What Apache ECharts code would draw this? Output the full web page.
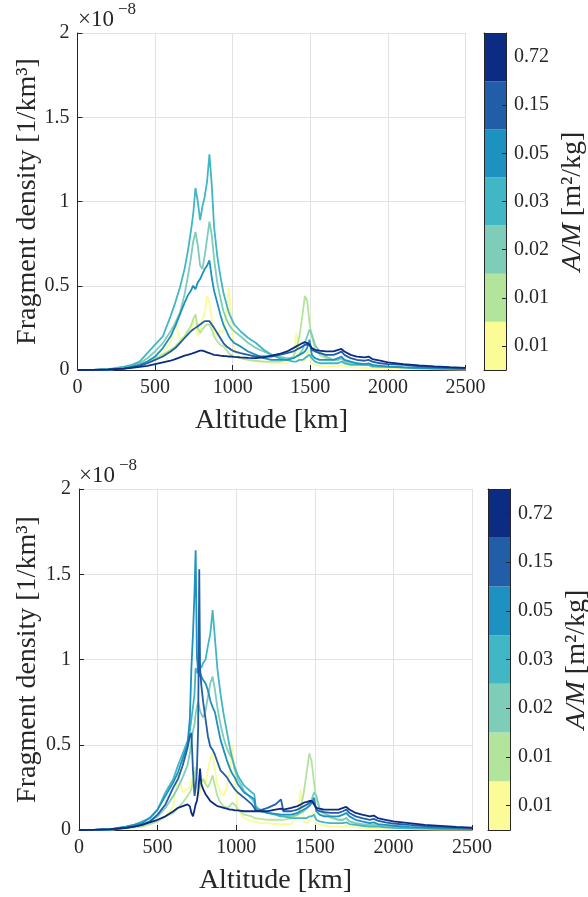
<!DOCTYPE html>
<html>
<head>
<meta charset="utf-8">
<script src="https://cdn.jsdelivr.net/npm/echarts/dist/echarts.min.js"></script>
<style>
  html, body { margin: 0; padding: 0; background: #ffffff; }
  #chart { width: 588px; height: 897px; }
</style>
</head>
<body>
<div id="chart"></div>
<script>
// ---------- data (density values in units of 1e-8 1/km^3) ----------
const cbLabels = ['0.01', '0.01', '0.02', '0.03', '0.05', '0.15', '0.72'];
const cbBand = [1, 1, 1, 1, 1, 1, 1];
const seriesColors = ['#fbfb97', '#b3e49b', '#7ecdb9', '#41b6c4', '#1d91c0', '#225ea8', '#0c2c84'];

const altTop = [0,100,200,300,350,400,450,500,550,600, 630,660,690,710,730,745,760,775,790,805,
  820,835,850,865,880,900,920,940,960,975, 990,1010,1050,1100,1150,1200,1250,1300,1350,1390,
  1410,1430,1450,1465,1480,1495,1510,1530,1560,1600, 1650,1680,1700,1720,1760,1800,1850,1875,1900,1950,
  2000,2100,2200,2300,2400,2500];

const topS1 = [0,0,0.002,0.01,0.02,0.05,0.05,0.07,0.10,0.16,
  0.29,0.18,0.20,0.24,0.22,0.28,0.30,0.20,0.22,0.30,
  0.34,0.44,0.40,0.30,0.22,0.20,0.24,0.22,0.35,0.49,
  0.30,0.12,0.07,0.06,0.05,0.05,0.04,0.04,0.04,0.08,
  0.22,0.06,0.05,0.06,0.10,0.12,0.04,0.03,0.025,0.02,
  0.02,0.02,0.03,0.02,0.015,0.015,0.012,0.012,0.01,0.01,
  0.01,0.008,0.006,0.005,0.004,0.003];
const topS2 = [0,0,0.003,0.01,0.02,0.03,0.05,0.07,0.09,0.12,
  0.14,0.17,0.20,0.23,0.26,0.30,0.33,0.25,0.22,0.24,
  0.26,0.27,0.27,0.24,0.20,0.17,0.15,0.14,0.12,0.10,
  0.09,0.08,0.07,0.06,0.055,0.05,0.05,0.05,0.06,0.08,
  0.12,0.20,0.33,0.44,0.41,0.28,0.20,0.13,0.09,0.07,
  0.06,0.06,0.07,0.05,0.04,0.035,0.03,0.03,0.025,0.02,
  0.018,0.014,0.011,0.009,0.007,0.005];
const topS3 = [0,0,0.003,0.015,0.025,0.04,0.07,0.11,0.16,0.23,
  0.28,0.34,0.45,0.55,0.66,0.76,0.82,0.74,0.62,0.60,
  0.68,0.78,0.88,0.80,0.66,0.52,0.43,0.35,0.30,0.27,
  0.25,0.23,0.20,0.16,0.13,0.11,0.09,0.08,0.07,0.07,
  0.08,0.09,0.12,0.16,0.20,0.24,0.21,0.15,0.11,0.08,
  0.06,0.06,0.07,0.05,0.04,0.035,0.03,0.03,0.025,0.02,
  0.02,0.015,0.012,0.01,0.008,0.006];
const topS4 = [0,0,0.005,0.02,0.03,0.05,0.10,0.15,0.20,0.32,
  0.40,0.49,0.60,0.70,0.82,0.92,1.08,1.00,0.89,0.97,
  1.03,1.12,1.28,1.10,0.85,0.68,0.56,0.46,0.39,0.34,
  0.31,0.27,0.23,0.19,0.16,0.12,0.09,0.07,0.06,0.05,
  0.05,0.06,0.06,0.07,0.08,0.09,0.07,0.05,0.04,0.04,
  0.04,0.04,0.05,0.04,0.03,0.03,0.03,0.03,0.02,0.02,
  0.02,0.015,0.01,0.01,0.008,0.006];
const topS5 = [0,0,0.003,0.01,0.02,0.03,0.05,0.08,0.13,0.20,
  0.26,0.33,0.40,0.44,0.47,0.50,0.48,0.52,0.54,0.57,
  0.60,0.62,0.65,0.55,0.47,0.40,0.33,0.27,0.23,0.20,
  0.18,0.16,0.14,0.11,0.09,0.07,0.06,0.06,0.06,0.07,
  0.08,0.09,0.10,0.11,0.13,0.18,0.09,0.07,0.06,0.06,
  0.06,0.07,0.08,0.06,0.05,0.04,0.035,0.04,0.03,0.025,
  0.02,0.016,0.013,0.01,0.008,0.006];
const topS6 = [0,0,0.002,0.008,0.015,0.025,0.04,0.06,0.08,0.11,
  0.13,0.16,0.19,0.21,0.23,0.24,0.25,0.26,0.27,0.28,
  0.29,0.29,0.29,0.27,0.25,0.22,0.19,0.16,0.14,0.13,
  0.12,0.11,0.10,0.09,0.08,0.08,0.08,0.09,0.10,0.11,
  0.12,0.13,0.14,0.15,0.15,0.15,0.12,0.11,0.10,0.09,
  0.09,0.10,0.11,0.09,0.07,0.06,0.055,0.06,0.05,0.04,
  0.035,0.03,0.022,0.017,0.013,0.01];
const topS7 = [0,0.001,0.003,0.008,0.012,0.018,0.025,0.035,0.045,0.055,
  0.065,0.075,0.085,0.09,0.095,0.10,0.105,0.11,0.115,0.115,
  0.11,0.105,0.10,0.095,0.09,0.088,0.085,0.083,0.082,0.08,
  0.08,0.078,0.075,0.072,0.07,0.075,0.085,0.095,0.11,0.13,
  0.14,0.15,0.16,0.165,0.16,0.15,0.13,0.12,0.115,0.11,
  0.11,0.12,0.125,0.11,0.09,0.08,0.075,0.08,0.065,0.055,
  0.045,0.035,0.028,0.022,0.017,0.013];

const altBot = [0,100,200,300,350,400,450,500,550,600, 630,660,690,705,715,725,735,742,750,758,
  765,770,778,790,805,820,835,850,865,880, 900,920,940,960,975,990,1010,1050,1100,1115,
  1125,1150,1200,1250,1285,1292,1300,1350,1390,1410, 1430,1450,1465,1480,1495,1510,1530,1560,1600,1650,
  1680,1700,1720,1760,1800,1850,1875,1900,1950,2000, 2100,2200,2300,2400,2500];

const botS1 = [0,0,0.002,0.01,0.015,0.02,0.035,0.05,0.08,0.14,
  0.33,0.22,0.24,0.25,0.30,0.26,0.28,0.22,0.30,0.25,
  0.20,0.22,0.25,0.30,0.27,0.35,0.42,0.45,0.35,0.27,
  0.22,0.20,0.25,0.35,0.50,0.32,0.12,0.07,0.05,0.05,
  0.045,0.04,0.04,0.035,0.035,0.035,0.035,0.035,0.08,0.24,
  0.05,0.04,0.05,0.09,0.11,0.04,0.03,0.025,0.02,0.02,
  0.02,0.025,0.02,0.015,0.012,0.01,0.01,0.008,0.007,0.006,
  0.005,0.004,0.003,0.003,0.002];
const botS2 = [0,0,0.002,0.01,0.015,0.02,0.035,0.05,0.08,0.10,
  0.13,0.16,0.20,0.22,0.24,0.28,0.33,0.37,0.30,0.26,
  0.24,0.25,0.28,0.30,0.27,0.25,0.28,0.32,0.26,0.20,
  0.16,0.14,0.13,0.14,0.16,0.15,0.12,0.09,0.08,0.07,
  0.07,0.065,0.06,0.06,0.06,0.06,0.06,0.07,0.09,0.13,
  0.22,0.35,0.45,0.40,0.28,0.18,0.12,0.09,0.07,0.06,
  0.06,0.07,0.05,0.04,0.035,0.03,0.03,0.025,0.02,0.018,
  0.014,0.011,0.009,0.007,0.005];
const botS3 = [0,0,0.003,0.015,0.02,0.03,0.05,0.08,0.13,0.20,
  0.25,0.31,0.38,0.45,0.52,0.58,0.62,0.68,0.72,0.75,
  0.72,0.70,0.68,0.66,0.70,0.78,0.86,0.90,0.82,0.72,
  0.62,0.54,0.48,0.44,0.42,0.36,0.30,0.23,0.18,0.16,
  0.14,0.12,0.10,0.09,0.08,0.08,0.08,0.08,0.09,0.10,
  0.11,0.13,0.15,0.18,0.22,0.20,0.13,0.10,0.08,0.06,
  0.06,0.07,0.05,0.04,0.035,0.03,0.03,0.025,0.02,0.018,
  0.014,0.011,0.009,0.007,0.005];
const botS4 = [0,0,0.005,0.02,0.03,0.05,0.07,0.12,0.22,0.30,
  0.38,0.45,0.52,0.58,0.65,0.72,0.80,0.95,0.92,0.95,
  0.96,0.97,0.95,0.98,1.00,1.08,1.15,1.29,1.12,0.95,
  0.80,0.68,0.58,0.48,0.42,0.37,0.32,0.26,0.22,0.21,
  0.13,0.12,0.10,0.09,0.08,0.08,0.08,0.07,0.07,0.07,
  0.07,0.07,0.08,0.08,0.09,0.06,0.05,0.045,0.04,0.04,
  0.04,0.045,0.035,0.03,0.025,0.02,0.02,0.02,0.015,0.013,
  0.01,0.008,0.006,0.005,0.004];
const botS5 = [0,0,0.004,0.02,0.03,0.04,0.07,0.12,0.20,0.28,
  0.34,0.42,0.50,0.65,0.95,1.15,1.40,1.64,1.02,0.93,
  0.90,0.92,0.90,0.88,0.86,0.82,0.76,0.72,0.69,0.62,
  0.53,0.47,0.41,0.36,0.33,0.31,0.27,0.22,0.19,0.18,
  0.12,0.11,0.10,0.095,0.09,0.09,0.09,0.09,0.10,0.11,
  0.12,0.13,0.14,0.16,0.19,0.11,0.09,0.08,0.08,0.08,
  0.09,0.10,0.08,0.06,0.05,0.04,0.045,0.035,0.03,0.025,
  0.018,0.014,0.011,0.009,0.007];
const botS6 = [0,0,0.003,0.012,0.02,0.03,0.05,0.09,0.15,0.25,
  0.30,0.38,0.48,0.55,0.57,0.35,0.20,0.25,0.35,0.60,
  1.53,0.95,0.85,0.75,0.65,0.55,0.49,0.47,0.44,0.40,
  0.35,0.33,0.31,0.28,0.26,0.24,0.22,0.19,0.15,0.13,
  0.11,0.115,0.13,0.15,0.18,0.19,0.11,0.11,0.12,0.13,
  0.14,0.15,0.16,0.17,0.16,0.12,0.11,0.105,0.10,0.10,
  0.11,0.12,0.10,0.08,0.07,0.06,0.065,0.055,0.045,0.038,
  0.03,0.023,0.018,0.014,0.011];
const botS7 = [0,0.002,0.005,0.012,0.02,0.03,0.045,0.06,0.08,0.11,
  0.13,0.14,0.15,0.14,0.10,0.08,0.12,0.15,0.17,0.22,
  0.30,0.36,0.27,0.24,0.21,0.19,0.17,0.16,0.15,0.14,
  0.135,0.13,0.125,0.12,0.12,0.115,0.115,0.11,0.11,0.11,
  0.11,0.11,0.11,0.12,0.125,0.125,0.12,0.13,0.14,0.15,
  0.16,0.165,0.17,0.17,0.15,0.13,0.125,0.12,0.12,0.12,
  0.13,0.135,0.12,0.10,0.09,0.08,0.085,0.07,0.06,0.05,
  0.04,0.03,0.024,0.018,0.014];

const topSeries = [topS1, topS2, topS3, topS4, topS5, topS6, topS7];
const botSeries = [botS1, botS2, botS3, botS4, botS5, botS6, botS7];

// ---------- styling ----------
const FONT = 'Liberation Serif';
const AX = '#262626';
const GRIDC = '#e2e2e2';
const TICK_FS = 20;
const LABEL_FS = 28;

function plotX(gi) {
  return {
    type: 'value', gridIndex: gi, min: 0, max: 2500, interval: 500,
    axisLine: { show: true, onZero: false, lineStyle: { color: AX, width: 1 } },
    axisTick: { show: true, inside: true, length: 5, lineStyle: { color: AX } },
    axisLabel: { color: AX, fontFamily: FONT, fontSize: TICK_FS, margin: 8,
      formatter: (v) => String(v) },
    splitLine: { show: true, lineStyle: { color: GRIDC, width: 1 } },
    name: 'Altitude [km]', nameLocation: 'middle', nameGap: 37,
    nameTextStyle: { fontFamily: FONT, fontSize: LABEL_FS, color: AX }
  };
}
function plotY(gi) {
  return {
    type: 'value', gridIndex: gi, min: 0, max: 2, interval: 0.5,
    axisLine: { show: true, onZero: false, lineStyle: { color: AX, width: 1 } },
    axisTick: { show: true, inside: true, length: 5, lineStyle: { color: AX } },
    axisLabel: { color: AX, fontFamily: FONT, fontSize: TICK_FS, margin: 8,
      formatter: (v) => String(v) },
    splitLine: { show: true, lineStyle: { color: GRIDC, width: 1 } }
  };
}
const cbIdx = cbLabels.map((_, i) => String(i));
function cbX(gi, pos) {
  return {
    type: 'value', gridIndex: gi, min: 0, max: 1, position: pos, z: 10,
    axisLine: { show: true, onZero: false, lineStyle: { color: AX, width: 1 } },
    axisTick: { show: false }, axisLabel: { show: false }, splitLine: { show: false }
  };
}
function cbY(gi, pos, withLabels) {
  return {
    type: 'category', gridIndex: gi, data: cbIdx, position: pos, z: 10,
    axisLine: { show: true, onZero: false, lineStyle: { color: AX, width: 1 } },
    axisTick: { show: withLabels, inside: true, alignWithLabel: true, length: 4, lineStyle: { color: AX } },
    axisLabel: { show: withLabels, color: AX, fontFamily: FONT, fontSize: TICK_FS, margin: 8,
      formatter: (v, i) => cbLabels[i] },
    splitLine: { show: false }
  };
}

const series = [];
function addLines(alts, list, xi, yi) {
  list.forEach((vals, k) => {
    series.push({
      type: 'line', xAxisIndex: xi, yAxisIndex: yi,
      data: alts.map((a, j) => [a, vals[j]]),
      showSymbol: false, symbol: 'none', smooth: false,
      lineStyle: { color: seriesColors[k], width: 1.8 },
      itemStyle: { color: seriesColors[k] },
      z: 2 + k
    });
  });
}
addLines(altTop, topSeries, 0, 0);
addLines(altBot, botSeries, 1, 1);
function addBar(xi, yi) {
  series.push({
    type: 'bar', xAxisIndex: xi, yAxisIndex: yi, silent: true,
    barWidth: '100%', barCategoryGap: '0%',
    data: cbBand.map((v, i) => ({ value: v, itemStyle: { color: seriesColors[i] } }))
  });
}
addBar(2, 2);
addBar(4, 4);

function vText(x, y, text, rich) {
  return {
    type: 'text', x: x, y: y, rotation: Math.PI / 2, z: 50,
    style: { text: text, fontFamily: FONT, fontSize: LABEL_FS, fill: AX,
      align: 'center', verticalAlign: 'middle', rich: rich || undefined }
  };
}
function hText(x, y, text, fs) {
  return {
    type: 'text', x: x, y: y, z: 50,
    style: { text: text, fontFamily: FONT, fontSize: fs, fill: AX, align: 'left', verticalAlign: 'middle' }
  };
}
const amRich = { i: { fontStyle: 'italic', fontFamily: FONT, fontSize: LABEL_FS, color: AX } };

const option = {
  animation: false,
  backgroundColor: '#ffffff',
  grid: [
    { left: 77.5, top: 33, width: 388, height: 337 },
    { left: 79, top: 489, width: 393, height: 341 },
    { left: 484, top: 33, width: 22, height: 337 },
    { left: 488, top: 489, width: 22, height: 341 }
  ],
  xAxis: [plotX(0), plotX(1), cbX(2, 'bottom'), cbX(2, 'top'), cbX(3, 'bottom'), cbX(3, 'top')],
  yAxis: [plotY(0), plotY(1), cbY(2, 'right', true), cbY(2, 'left', false), cbY(3, 'right', true), cbY(3, 'left', false)],
  series: series,
  graphic: [
    vText(28, 201.5, 'Fragment density [1/km³]'),
    vText(28, 659.5, 'Fragment density [1/km³]'),
    vText(573, 201.5, '{i|A/M} [m²/kg]', amRich),
    vText(577, 659.5, '{i|A/M} [m²/kg]', amRich),
    hText(78, 20, '×10', 23),
    hText(118, 10, '−8', 17),
    hText(79, 476, '×10', 23),
    hText(119, 466, '−8', 17)
  ]
};

const chart = echarts.init(document.getElementById('chart'), null, { renderer: 'canvas' });
chart.setOption(option);
</script>
</body>
</html>
